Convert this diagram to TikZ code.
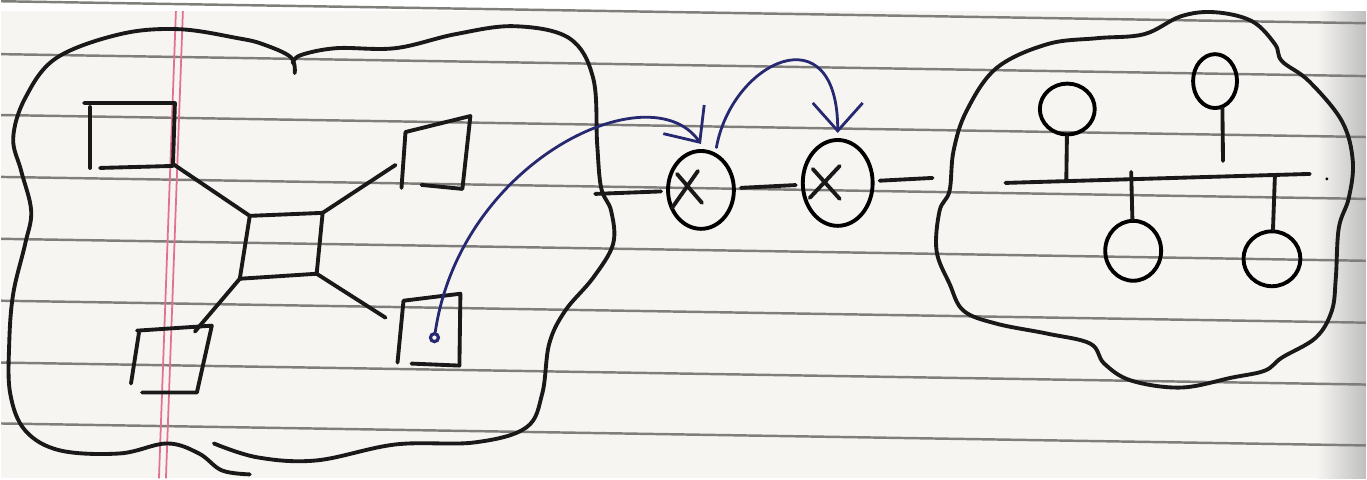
\documentclass[tikz,border=0pt]{standalone}
\usepackage{tikz}
\usetikzlibrary{arrows.meta, shapes.geometric}

\definecolor{paper}{RGB}{246,245,242}
\definecolor{ruling}{RGB}{128,126,122}
\definecolor{margin}{RGB}{226,112,142}
\definecolor{ink}{RGB}{38,40,112}

\begin{document}
\begin{tikzpicture}[x=0.1mm, y=-0.1mm,
    pen/.style={line width=1.1pt, line cap=round, line join=round, black!90},
    inkpen/.style={line width=0.8pt, line cap=round, ink},
    rule/.style={line width=0.7pt, ruling},
    xring/.style={ellipse, draw, line width=1.1pt, inner sep=0pt, outer sep=2pt},
    bulb/.style={ellipse, draw, line width=1.1pt, inner sep=0pt},
    tapdot/.style={circle, draw=ink, line width=0.9pt, inner sep=0pt, minimum size=0.8mm},
    hook/.style={-{Straight Barb[length=2.8mm, width=5mm]}},
  ]
    % Ruled page
    \fill[paper] (0,0) rectangle (1367,468);
    \shade[left color=paper, right color=black!25] (1318,0) rectangle (1367,468);
    \foreach \y in {-10,43,104,166,228,290,352,413}
        \draw[rule] (0,\y) -- (1367,{\y+22});
    \draw[margin, line width=0.5pt] (175,0) -- (158,468);
    \draw[margin, line width=0.5pt] (182,0) -- (165,468);
    \useasboundingbox (0,0) rectangle (1367,468);

    % Left cloud (star network)
    \draw[pen] plot[smooth, tension=0.6] coordinates {
        (294,62) (290,46) (262,33) (237,27) (178,18) (119,23) (55,47) (24,87)
        (12,127) (20,160) (30,200) (24,233) (12,283) (8,333) (9,383) (24,420)
        (59,440) (119,443) (166,433) (198,443) (221,460) (249,464)};
    \draw[pen] plot[smooth, tension=0.6] coordinates {
        (213,433) (257,447) (316,450) (395,434) (474,432) (526,417) (542,383)
        (549,333) (565,300) (593,267) (613,233) (611,200) (601,177) (597,133)
        (593,67) (569,27) (514,15) (455,23) (395,37) (336,37) (300,44) (292,52)};

    % Hub
    \coordinate (hubTL) at (249,205);
    \coordinate (hubTR) at (322,202);
    \coordinate (hubBR) at (316,263);
    \coordinate (hubBL) at (239,268);
    \draw[pen] (hubTL) -- (hubTR) -- (hubBR) -- (hubBL) -- cycle;

    % Stations
    \draw[pen] (89,157) -- (89,96);
    \draw[pen] (83,92) -- (174,92) -- (172,155) -- (99,157);
    \coordinate (tlC) at (172,153);

    \draw[pen] (401,177) -- (405,121) -- (470,105) -- (462,178) -- (421,174);
    \coordinate (trC) at (395,154);

    \draw[pen] (130,373) -- (138,322);
    \draw[pen] (136,320) -- (211,315) -- (196,382) -- (141,382);
    \coordinate (blC) at (194,321);

    \draw[pen] (397,352) -- (403,290) -- (460,283) -- (459,355) -- (411,353);
    \coordinate (brC) at (385,307);

    \draw[pen] (tlC) -- (hubTL);
    \draw[pen] (trC) -- (hubTR);
    \draw[pen] (blC) -- (hubBL);
    \draw[pen] (hubBR) -- (brC);

    % Routers between the clouds
    \coordinate (hopL) at (595,183);
    \coordinate (hopR) at (933,167);
    \node[xring, minimum width=6.6mm, minimum height=7.8mm] (xa) at (701,179) {};
    \node[xring, minimum width=7mm, minimum height=8.6mm] (xb) at (838,172) {};
    \draw[pen] (677,163) -- (702,192) (698,160) -- (672,197);
    \draw[pen] (813,158) -- (840,188) (840,155) -- (810,187);
    \draw[pen] (hopL) -- (xa);
    \draw[pen] (xa) -- (xb);
    \draw[pen] (xb) -- (hopR);

    % Packet path
    \node[tapdot] (tap) at (434,327) {};
    \draw[inkpen, hook] (tap) .. controls (460,150) and (650,60) .. (xa.north);
    \draw[inkpen, hook] (xa.70) .. controls (732,50) and (838,0) .. (xb.north);

    % Right cloud (bus network)
    \draw[pen] plot[smooth cycle, tension=0.6] coordinates {
        (950,180) (954,140) (967,100) (997,57) (1048,33) (1098,27) (1145,23)
        (1182,5) (1216,1) (1253,10) (1276,33) (1283,50) (1310,70) (1343,110)
        (1354,150) (1350,187) (1340,217) (1337,267) (1333,300) (1317,327)
        (1283,347) (1266,360) (1233,367) (1182,377) (1132,370) (1105,353)
        (1091,333) (1048,323) (997,313) (964,300) (950,273) (937,240) (940,200)};

    \coordinate (busL) at (1006,172);
    \coordinate (busR) at (1311,163);
    \draw[pen] (busL) -- (busR);
    \fill (1328,168) circle (1.6);

    \node[bulb, minimum width=5.5mm, minimum height=5.1mm] (p1) at (1068,98) {};
    \node[bulb, minimum width=4.4mm, minimum height=5.4mm] (p2) at (1216,70) {};
    \node[bulb, minimum width=5.6mm, minimum height=6mm] (p3) at (1134,240) {};
    \node[bulb, minimum width=5.7mm, minimum height=5.5mm] (p4) at (1273,248) {};
    \coordinate (s1) at (1067,169);
    \coordinate (s2) at (1224,150);
    \coordinate (s3) at (1132,161);
    \coordinate (s4) at (1276,164);
    \draw[pen] (p1) -- (s1);
    \draw[pen] (p2.-75) -- (s2);
    \draw[pen] (s3) -- (p3);
    \draw[pen] (s4) -- (p4);
\end{tikzpicture}
\end{document}
